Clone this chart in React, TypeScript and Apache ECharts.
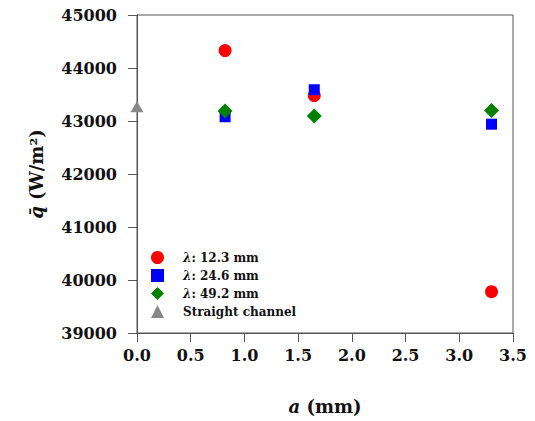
import React, { useEffect, useRef } from "react";
import * as echarts from "echarts";

const seriesNames = ["λ: 12.3 mm", "λ: 24.6 mm", "λ: 49.2 mm", "Straight channel"];
const aValues = [0.82, 1.65, 3.3];
const q123 = [44330, 43480, 39780];
const q246 = [43080, 43590, 42940];
const q492 = [43190, 43095, 43200];
const straightA = [0];
const straightQ = [43270];

const FONT = "DejaVu Serif";

export default function App() {
  const ref = useRef<HTMLDivElement>(null);
  useEffect(() => {
    if (!ref.current) return;
    const chart = echarts.init(ref.current, null, { renderer: "svg" });
    const pair = (xs: number[], ys: number[]) => xs.map((x, i) => [x, ys[i]]);
    chart.setOption({
      animation: false,
      backgroundColor: "#fff",
      grid: {
        left: 137,
        top: 15,
        right: 22,
        bottom: 88,
        show: true,
        borderColor: "#555",
        borderWidth: 1,
        backgroundColor: "transparent",
      },
      legend: {
        orient: "vertical",
        left: 146,
        top: 246,
        itemWidth: 13,
        itemHeight: 13,
        itemGap: 5,
        data: [
          { name: seriesNames[0], icon: "circle" },
          { name: seriesNames[1], icon: "rect" },
          { name: seriesNames[2], icon: "diamond" },
          { name: seriesNames[3], icon: "triangle" },
        ],
        formatter: (name: string) =>
          name.startsWith("λ") ? `{i|λ}{b|${name.slice(1)}}` : `{b|${name}}`,
        textStyle: {
          padding: [0, 0, 0, 14],
          rich: {
            i: { fontFamily: FONT, fontWeight: "bold", fontStyle: "italic", fontSize: 12, color: "#111" },
            b: { fontFamily: FONT, fontWeight: "bold", fontSize: 12, color: "#111" },
          },
        },
      },
      xAxis: {
        type: "value",
        min: 0,
        max: 3.5,
        interval: 0.5,
        name: "{i|a}{b| (mm)}",
        nameLocation: "middle",
        nameGap: 64,
        nameTextStyle: {
          rich: {
            i: { fontFamily: FONT, fontWeight: "bold", fontStyle: "italic", fontSize: 18, color: "#111" },
            b: { fontFamily: FONT, fontWeight: "bold", fontSize: 18, color: "#111" },
          },
        },
        axisLine: { show: true, onZero: false, lineStyle: { color: "#555", width: 1 } },
        axisTick: { show: true, inside: false, length: 9, lineStyle: { color: "#555" } },
        axisLabel: {
          margin: 14,
          fontFamily: FONT,
          fontWeight: "bold",
          fontSize: 16,
          color: "#111",
          formatter: (v: number) => v.toFixed(1),
        },
        splitLine: { show: false },
      },
      yAxis: {
        type: "value",
        min: 39000,
        max: 45000,
        interval: 1000,
        name: "{q|q̄}{b| (W/m²)}",
        nameLocation: "middle",
        nameRotate: 90,
        nameGap: 92,
        nameTextStyle: {
          rich: {
            q: { fontFamily: FONT, fontWeight: "bold", fontStyle: "italic", fontSize: 18, color: "#111" },
            b: { fontFamily: FONT, fontWeight: "bold", fontSize: 18, color: "#111" },
          },
        },
        axisLine: { show: true, onZero: false, lineStyle: { color: "#555", width: 1 } },
        axisTick: { show: true, inside: false, length: 9, lineStyle: { color: "#555" } },
        axisLabel: {
          margin: 20,
          fontFamily: FONT,
          fontWeight: "bold",
          fontSize: 16,
          color: "#111",
          formatter: (v: number) => String(v),
        },
        splitLine: { show: false },
      },
      series: [
        {
          name: seriesNames[0],
          type: "scatter",
          symbol: "circle",
          symbolSize: 13,
          itemStyle: { color: "#ff0000", opacity: 1 },
          data: pair(aValues, q123),
          clip: false,
        },
        {
          name: seriesNames[1],
          type: "scatter",
          symbol: "rect",
          symbolSize: 11,
          itemStyle: { color: "#0000ff", opacity: 1 },
          data: pair(aValues, q246),
          clip: false,
        },
        {
          name: seriesNames[2],
          type: "scatter",
          symbol: "diamond",
          symbolSize: 15,
          itemStyle: { color: "#008000", opacity: 1 },
          data: pair(aValues, q492),
          clip: false,
        },
        {
          name: seriesNames[3],
          type: "scatter",
          symbol: "triangle",
          symbolSize: [13, 11],
          itemStyle: { color: "#888888", opacity: 1 },
          data: pair(straightA, straightQ),
          clip: false,
        },
      ],
    });
    return () => chart.dispose();
  }, []);
  return <div ref={ref} style={{ width: 535, height: 421, position: "absolute", left: 0, top: 0 }} />;
}
